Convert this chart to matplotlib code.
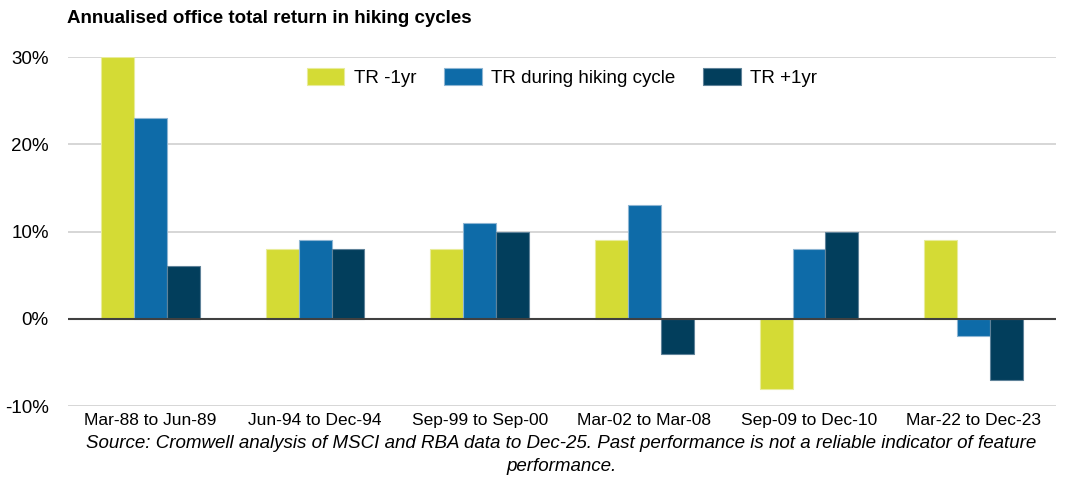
import numpy as np
import matplotlib.pyplot as plt
from matplotlib.ticker import FuncFormatter

plt.rcParams['font.family'] = ['Liberation Sans', 'DejaVu Sans']

cycles = ["Mar-88 to Jun-89", "Jun-94 to Dec-94", "Sep-99 to Sep-00",
          "Mar-02 to Mar-08", "Sep-09 to Dec-10", "Mar-22 to Dec-23"]
tr_before = [30, 8, 8, 9, -8, 9]
tr_during = [23, 9, 11, 13, 8, -2]
tr_after = [6, 8, 10, -4, 10, -7]

series = [("TR -1yr", tr_before, "#D4DB35", "#E8EC9A"),
          ("TR during hiking cycle", tr_during, "#0E6BA8", "#8DB5D3"),
          ("TR +1yr", tr_after, "#023E5C", "#5F8299")]

fig = plt.figure(figsize=(10.65, 4.86), dpi=100)
ax = fig.add_axes([0.064, 0.1646, 0.9275, 0.7181])

x = np.arange(len(cycles))
w = 0.2
for i, (name, vals, col, edge) in enumerate(series):
    ax.bar(x + (i - 1) * w, vals, width=w, color=col, edgecolor=edge,
           linewidth=0.8, label=name, zorder=3)

ax.set_xlim(-0.5, len(cycles) - 0.5)
ax.set_ylim(-10, 30)
ax.set_yticks([-10, 0, 10, 20, 30])
ax.yaxis.set_major_formatter(FuncFormatter(lambda v, p: f"{v:.0f}%"))
ax.set_xticks(x)
ax.set_xticklabels(cycles)
ax.tick_params(axis='both', length=0)
ax.tick_params(axis='y', pad=14, labelsize=13.5)
ax.tick_params(axis='x', pad=5, labelsize=12.5)
ax.grid(axis='y', color='#D0D0D0', linewidth=1.2, zorder=0)
ax.axhline(0, color='#404040', linewidth=1.5, zorder=4)
for s in ax.spines.values():
    s.set_visible(False)

ax.legend(loc='upper center', bbox_to_anchor=(0.5, 1.017), ncol=3, frameon=False,
          fontsize=13.5, handlelength=2.0, handleheight=1.0, columnspacing=1.5,
          handletextpad=0.5)

fig.text(0.063, 0.962, "Annualised office total return in hiking cycles",
         fontsize=13.5, fontweight='bold', ha='left', va='center')
fig.text(0.527, 0.088, "Source: Cromwell analysis of MSCI and RBA data to Dec-25. Past performance is not a reliable indicator of feature",
         fontsize=13.5, style='italic', ha='center', va='center')
fig.text(0.527, 0.04, "performance.", fontsize=13.5, style='italic', ha='center', va='center')

fig.savefig("out.png", dpi=100)
